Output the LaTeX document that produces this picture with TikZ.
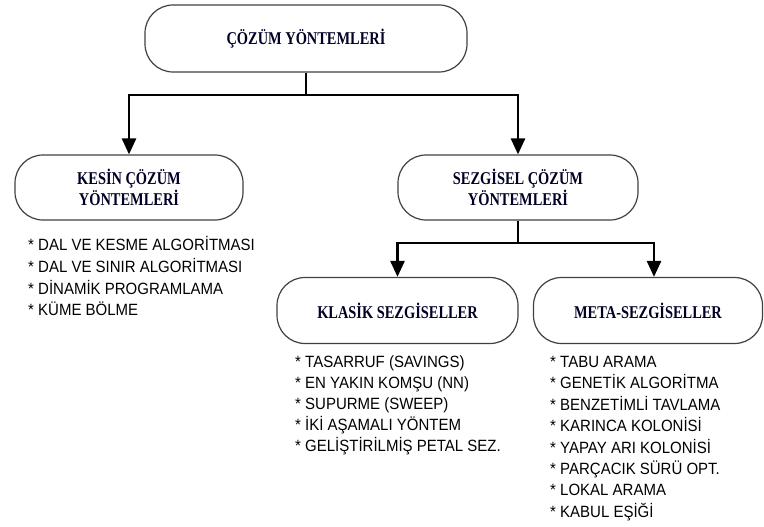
\documentclass[tikz,border=0pt]{standalone}
\usepackage{fontspec}
\setmainfont[FakeStretch=0.8]{Liberation Serif}
\newfontfamily\listfont[FakeStretch=0.92]{Liberation Sans}
\usetikzlibrary{arrows.meta}

\tikzset{
  kutu/.style={draw=black!75,line width=1.2pt,rounded corners=28pt,align=center,
    font=\bfseries\fontsize{18}{21.7}\selectfont,text=black!85!blue},
  ok/.style={line width=2.6pt,-{Triangle[width=14pt,length=16pt]}},
  hat/.style={line width=2.6pt},
  madde/.style={anchor=base west,inner sep=0pt,font=\listfont\fontsize{16.3}{19}\selectfont}
}

\begin{document}
\begin{tikzpicture}[x=1pt,y=-1pt]
\useasboundingbox (0,0) rectangle (764,527);
% kutular
\node[kutu,minimum width=322pt,minimum height=67pt](ana) at (306,38.5){ÇÖZÜM YÖNTEMLERİ};
\node[kutu,minimum width=228pt,minimum height=65pt](kesin) at (129,187.5){KESİN ÇÖZÜM\\YÖNTEMLERİ};
\node[kutu,minimum width=240pt,minimum height=65pt](sezgisel) at (518,187.5){SEZGİSEL ÇÖZÜM\\YÖNTEMLERİ};
\node[kutu,minimum width=241pt,minimum height=66pt](klasik) at (397.5,310.5){KLASİK SEZGİSELLER};
\node[kutu,minimum width=229pt,minimum height=66pt](meta) at (648,310.5){META-SEZGİSELLER};
% baglantilar
\coordinate (d1) at (306,95);
\coordinate (d2) at (518,243);
\coordinate (m) at ([xshift=6pt]meta.north);
\draw[hat](ana.south)--(d1);
\draw[ok](d1)-|(kesin.north);
\draw[ok](d1)-|(sezgisel.north);
\draw[hat](sezgisel.south)--(d2);
\draw[ok](d2)-|(klasik.north);
\draw[ok](d2)-|(m);
% listeler
\foreach \t [count=\i] in {DAL VE KESME ALGORİTMASI,DAL VE SINIR ALGORİTMASI,
  DİNAMİK PROGRAMLAMA,KÜME BÖLME}
  \node[madde](k\i) at (28,250.8+21.7*\i-21.7){* \t};
\foreach \t [count=\i] in {TASARRUF (SAVINGS),EN YAKIN KOMŞU (NN),SUPURME (SWEEP),
  İKİ AŞAMALI YÖNTEM,GELİŞTİRİLMİŞ PETAL SEZ.}
  \node[madde](s\i) at (295,367.5+21.1*\i-21.1){* \t};
\foreach \t [count=\i] in {TABU ARAMA,GENETİK ALGORİTMA,BENZETİMLİ TAVLAMA,KARINCA KOLONİSİ,
  YAPAY ARI KOLONİSİ,PARÇACIK SÜRÜ OPT.,LOKAL ARAMA,KABUL EŞİĞİ}
  \node[madde](m\i) at (550,367.5+21.4*\i-21.4){* \t};
\end{tikzpicture}
\end{document}
